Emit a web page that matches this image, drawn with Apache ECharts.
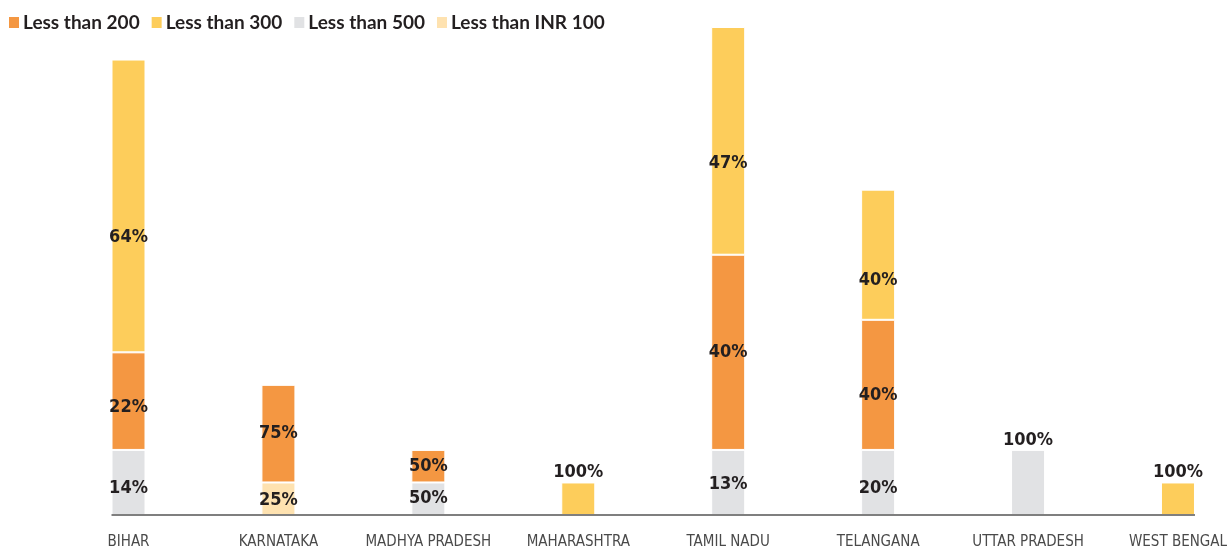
<!DOCTYPE html>
<html>
<head>
<meta charset="utf-8">
<style>
  html, body { margin: 0; padding: 0; background: #fff; }
  #main { width: 1230px; height: 553px; }
</style>
<script src="https://cdn.jsdelivr.net/npm/echarts@6/dist/echarts.min.js"></script>
</head>
<body>
<div id="main"></div>
<script>
// respondents per state and price band, plus the share labels printed on the bars
var states = ['BIHAR', 'KARNATAKA', 'MADHYA PRADESH', 'MAHARASHTRA', 'TAMIL NADU', 'TELANGANA', 'UTTAR PRADESH', 'WEST BENGAL'];
var lessThan500 = [2, null, 1, null, 2, 2, 2, null];
var lessThanInr100 = [null, 1, null, null, null, null, null, null];
var lessThan200 = [3, 3, 1, null, 6, 4, null, null];
var lessThan300 = [9, null, null, 1, 7, 4, null, 1];

var pct500 = ['14%', null, '50%', null, '13%', '20%', '100%', null];
var pctInr100 = [null, '25%', null, null, null, null, null, null];
var pct200 = ['22%', '75%', '50%', null, '40%', '40%', null, null];
var pct300 = ['64%', null, null, '100%', '47%', '40%', null, '100%'];

// the original labels sit a bit below the middle of the segments
var labelShift500 = [6, 0, 0, 0, 2, 6, 0, 0];
var labelShiftInr100 = [0, 2, 0, 0, 0, 0, 0, 0];
var labelShift200 = [6, 0, 0, 0, 0, 10, 0, 0];
var labelShift300 = [31, 0, 0, 0, 22, 26, 0, 0];

var chartDom = document.getElementById('main');
var myChart = echarts.init(chartDom, null, { renderer: 'canvas' });

var condFont = "'DejaVu Sans'";
var BAR_W = 34;

// count how many bands each state has, single band bars get the label on top
var bandCount = states.map(function (s, i) {
    return [lessThan500, lessThanInr100, lessThan200, lessThan300].filter(function (arr) {
        return arr[i] != null;
    }).length;
});

function makeSeries(name, values, labels, shifts, color) {
    return {
        name: name,
        type: 'bar',
        stack: 'total',
        barWidth: BAR_W,
        itemStyle: { color: color, borderColor: '#fff', borderWidth: 1 },
        data: values.map(function (v, i) {
            if (v == null) return null;
            var single = bandCount[i] === 1;
            return {
                value: v,
                label: {
                    position: single ? 'top' : 'inside',
                    distance: 1,
                    offset: [0, single ? 0 : shifts[i]]
                }
            };
        }),
        label: {
            show: true,
            color: '#231f20',
            fontFamily: condFont,
            fontWeight: 'bold condensed',
            fontSize: 18,
            formatter: function (p) { return labels[p.dataIndex] || ''; }
        },
        emphasis: { disabled: true }
    };
}

var option = {
    animation: false,
    legend: {
        left: 2,
        top: 8,
        itemWidth: 12,
        itemHeight: 13,
        itemGap: 10,
        icon: 'rect',
        data: ['Less than 200', 'Less than 300', 'Less than 500', 'Less than INR 100'],
        textStyle: {
            fontFamily: 'Lato',
            fontWeight: 'bold',
            fontSize: 19,
            color: '#231f20',
            padding: [0, 0, 0, -2]
        }
    },
    grid: {
        left: 128.5,
        right: 49,
        top: 27,
        bottom: 38
    },
    xAxis: {
        type: 'category',
        data: states,
        boundaryGap: false,
        axisLine: { show: false },
        axisTick: { show: false },
        axisLabel: {
            interval: 0,
            margin: 20,
            color: '#4a4a4a',
            fontFamily: condFont,
            fontWeight: 'normal condensed',
            fontSize: 15
        }
    },
    yAxis: {
        type: 'value',
        min: 0,
        max: 15,
        show: false,
        splitLine: { show: false }
    },
    series: [
        makeSeries('Less than 500', lessThan500, pct500, labelShift500, '#e1e2e4'),
        makeSeries('Less than INR 100', lessThanInr100, pctInr100, labelShiftInr100, '#fee2b0'),
        makeSeries('Less than 200', lessThan200, pct200, labelShift200, '#f49742'),
        makeSeries('Less than 300', lessThan300, pct300, labelShift300, '#fdcd5b')
    ]
};

myChart.setOption(option);

// baseline spans from the left edge of the first bar to the right edge of the last one
var xStart = myChart.convertToPixel({ xAxisIndex: 0 }, 0) - BAR_W / 2;
var xEnd = myChart.convertToPixel({ xAxisIndex: 0 }, states.length - 1) + BAR_W / 2;
var yBase = myChart.convertToPixel({ yAxisIndex: 0 }, 0);
myChart.setOption({
    graphic: [{
        type: 'line',
        shape: { x1: xStart, y1: yBase, x2: xEnd, y2: yBase },
        style: { stroke: '#555', lineWidth: 1.5 },
        z: 10
    }]
});
</script>
</body>
</html>
